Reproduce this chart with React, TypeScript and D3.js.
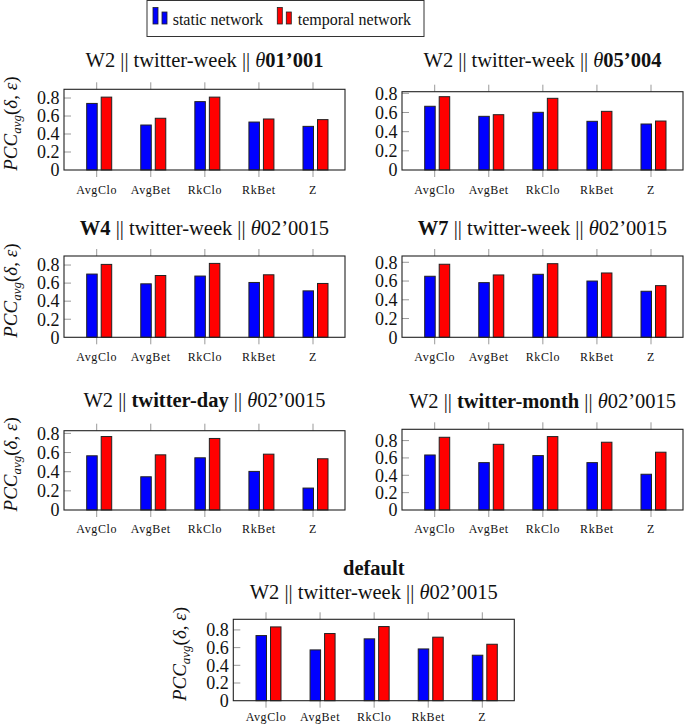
import React from "react";
import * as d3 from "d3";

const categories = ["AvgClo", "AvgBet", "RkClo", "RkBet", "Z"];
const yTicks = [0, 0.2, 0.4, 0.6, 0.8];
const yTickLabels = ["0", "0.2", "0.4", "0.6", "0.8"];
const seriesNames = ["static network", "temporal network"];
const seriesColors = ["#0000ff", "#ff0000"];

const staticTheta01 = [0.74, 0.5, 0.76, 0.533, 0.485];
const temporalTheta01 = [0.81, 0.575, 0.81, 0.567, 0.56];
const staticTheta05 = [0.665, 0.56, 0.602, 0.508, 0.48];
const temporalTheta05 = [0.765, 0.577, 0.748, 0.612, 0.511];
const staticW4 = [0.7, 0.592, 0.678, 0.607, 0.514];
const temporalW4 = [0.807, 0.684, 0.818, 0.692, 0.596];
const staticW7 = [0.651, 0.583, 0.672, 0.6, 0.491];
const temporalW7 = [0.779, 0.665, 0.785, 0.686, 0.551];
const staticDay = [0.566, 0.347, 0.545, 0.403, 0.229];
const temporalDay = [0.767, 0.576, 0.747, 0.583, 0.535];
const staticMonth = [0.634, 0.546, 0.627, 0.546, 0.412];
const temporalMonth = [0.838, 0.757, 0.846, 0.781, 0.666];
const staticDefault = [0.736, 0.574, 0.699, 0.585, 0.514];
const temporalDefault = [0.834, 0.759, 0.838, 0.718, 0.638];

// title segments: [text, style] where n=normal, b=bold, i=italic
const SEP = " || ";
const titleTheta01 = [["W2" + SEP + "twitter-week" + SEP, "n"], ["θ", "i"], ["01’001", "b"]];
const titleTheta05 = [["W2" + SEP + "twitter-week" + SEP, "n"], ["θ", "i"], ["05’004", "b"]];
const titleW4 = [["W4", "b"], [SEP + "twitter-week" + SEP, "n"], ["θ", "i"], ["02’0015", "n"]];
const titleW7 = [["W7", "b"], [SEP + "twitter-week" + SEP, "n"], ["θ", "i"], ["02’0015", "n"]];
const titleDay = [["W2" + SEP, "n"], ["twitter-day", "b"], [SEP, "n"], ["θ", "i"], ["02’0015", "n"]];
const titleMonth = [["W2" + SEP, "n"], ["twitter-month", "b"], [SEP, "n"], ["θ", "i"], ["02’0015", "n"]];
const titleDefault = [["W2" + SEP + "twitter-week" + SEP, "n"], ["θ", "i"], ["02’0015", "n"]];
const supTitleDefault = "default";

const FONT = "'Liberation Serif', 'DejaVu Serif', serif";
const BOX_W = 281;
const TITLE_SIZE = 20.5;

const panels = [
  { left: 64, top: 89.3, bottom: 170, ymax: 0.897, titleY: 60, title: titleTheta01, s: staticTheta01, t: temporalTheta01, ylab: true, lg: 20 },
  { left: 402, top: 91.7, bottom: 170, ymax: 0.817, titleY: 60, title: titleTheta05, s: staticTheta05, t: temporalTheta05, ylab: false, lg: 20 },
  { left: 64, top: 256, bottom: 337.3, ymax: 0.9, titleY: 227.7, title: titleW4, s: staticW4, t: temporalW4, ylab: true, lg: 19.5 },
  { left: 402, top: 256, bottom: 337.3, ymax: 0.867, titleY: 227.7, title: titleW7, s: staticW7, t: temporalW7, ylab: false, lg: 19.5 },
  { left: 64, top: 430.7, bottom: 510, ymax: 0.828, titleY: 400, title: titleDay, s: staticDay, t: temporalDay, ylab: true, lg: 19 },
  { left: 402, top: 429.3, bottom: 510, ymax: 0.93, titleY: 400.5, title: titleMonth, s: staticMonth, t: temporalMonth, ylab: false, lg: 19 },
  { left: 233.3, top: 619.3, bottom: 700.7, ymax: 0.92, titleY: 591.7, title: titleDefault, s: staticDefault, t: temporalDefault, sup: supTitleDefault, supY: 568.3, ylab: true, lg: 16 },
];

function Title({ segs, x, y }: any) {
  return (
    <text x={x} y={y} dy="0.35em" textAnchor="middle" fontFamily={FONT} fontSize={TITLE_SIZE} fill="#111">
      {segs.map((s: any, i: number) => (
        <tspan key={i} fontWeight={s[1] === "b" ? "bold" : "normal"} fontStyle={s[1] === "i" ? "italic" : "normal"}>
          {s[0]}
        </tspan>
      ))}
    </text>
  );
}

function Panel({ p }: any) {
  const right = p.left + BOX_W;
  const x = d3.scalePoint<string>().domain(categories).range([p.left + 32.7, right - 32]);
  const y = d3.scaleLinear().domain([0, p.ymax]).range([p.bottom, p.top]);
  const barW = 10.5;
  const offsets = [-10, 4.5];
  const series = [p.s, p.t];
  const cy = (p.top + p.bottom) / 2 - 6;
  return (
    <g>
      {p.sup && (
        <text x={(p.left + right) / 2} y={p.supY} dy="0.35em" textAnchor="middle" fontFamily={FONT} fontSize={TITLE_SIZE} fontWeight="bold" fill="#111">
          {p.sup}
        </text>
      )}
      <Title segs={p.title} x={(p.left + right) / 2} y={p.titleY} />
      {categories.map((c) => (
        <g key={c}>
          <line x1={x(c)} x2={x(c)} y1={p.top - 7} y2={p.top} stroke="#999" strokeWidth={1} />
          <line x1={x(c)} x2={x(c)} y1={p.bottom} y2={p.bottom + 7} stroke="#999" strokeWidth={1} />
          <text x={x(c)} y={p.bottom + p.lg} dy="0.35em" textAnchor="middle" fontFamily={FONT} fontSize={12} letterSpacing={0.6} fill="#111">
            {c}
          </text>
        </g>
      ))}
      {yTicks.map((v, i) => (
        <g key={v}>
          {v > 0 && <line x1={p.left} x2={p.left + 7} y1={y(v)} y2={y(v)} stroke="#999" strokeWidth={1} />}
          <text x={p.left - 4.5} y={y(v)} dy="0.35em" textAnchor="end" fontFamily={FONT} fontSize={18} fill="#111">
            {yTickLabels[i]}
          </text>
        </g>
      ))}
      {series.map((vals: number[], si: number) =>
        categories.map((c, ci) => (
          <rect
            key={si + "-" + c}
            x={(x(c) as number) + offsets[si]}
            y={y(vals[ci])}
            width={barW}
            height={p.bottom - y(vals[ci])}
            fill={seriesColors[si]}
            stroke="#222"
            strokeWidth={1}
          />
        ))
      )}
      <rect x={p.left} y={p.top} width={BOX_W} height={p.bottom - p.top} fill="none" stroke="#222" strokeWidth={1.1} />
      {p.ylab && (
        <text transform={`translate(${p.left - 47},${cy}) rotate(-90)`} textAnchor="middle" fontFamily={FONT} fontSize={19} fill="#111">
          <tspan fontStyle="italic">PCC</tspan>
          <tspan fontStyle="italic" fontSize={13} dy={4}>avg</tspan>
          <tspan dy={-4}>(</tspan>
          <tspan fontStyle="italic">δ</tspan>
          <tspan>, </tspan>
          <tspan fontStyle="italic">ε</tspan>
          <tspan>)</tspan>
        </text>
      )}
    </g>
  );
}

function Legend() {
  const items = [
    { x: 153, tx: 172.7 },
    { x: 277.3, tx: 297.7 },
  ];
  return (
    <g>
      <rect x={147} y={0.5} width={277} height={36} fill="white" stroke="#333" strokeWidth={1} />
      {items.map((it, i) => (
        <g key={i}>
          <rect x={it.x} y={7.5} width={5} height={16.5} fill={seriesColors[i]} stroke="#222" strokeWidth={0.8} />
          <rect x={it.x + 9} y={12} width={5} height={12} fill={seriesColors[i]} stroke="#222" strokeWidth={0.8} />
          <text x={it.tx} y={24.5} fontFamily={FONT} fontSize={16} fill="#111">
            {seriesNames[i]}
          </text>
        </g>
      ))}
    </g>
  );
}

export default function App() {
  return (
    <svg width={685} height={725} style={{ position: "absolute", left: 0, top: 0, background: "white" }}>
      <rect width={685} height={725} fill="white" />
      <Legend />
      {panels.map((p, i) => (
        <Panel key={i} p={p} />
      ))}
    </svg>
  );
}
